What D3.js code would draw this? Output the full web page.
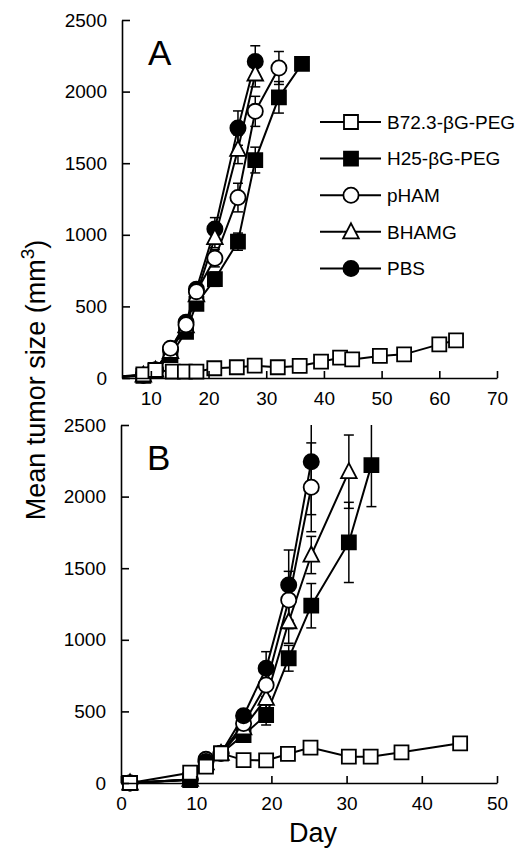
<!DOCTYPE html>
<html>
<head>
<meta charset="utf-8">
<script src="https://cdn.jsdelivr.net/npm/d3@7/dist/d3.min.js"></script>
<style>
  body { margin: 0; background: #fff; }
  text { font-family: "Liberation Sans", Arial, Helvetica, sans-serif; fill: #000; }
</style>
</head>
<body>
<svg id="chart" width="516" height="851"></svg>
<script>
// ---- data (days, mean tumor size mm3, error) ----
var seriesNames = ['B72.3-\u03b2G-PEG', 'H25-\u03b2G-PEG', 'pHAM', 'BHAMG', 'PBS'];
var yTicks = [0, 500, 1000, 1500, 2000, 2500];
var xTicksA = [10, 20, 30, 40, 50, 60, 70];
var xTicksB = [0, 10, 20, 30, 40, 50];

// panel A
var aB72Days = [1, 8.7, 10.8, 13.8, 15.9, 17.9, 21, 24.9, 28, 32, 35.8, 39.5, 42.8, 44.9, 49.7, 53.9, 60, 62.9];
var aB72Vals = [0, 25, 56, 44, 44, 44, 68, 75, 86, 75, 84, 114, 142, 130, 154, 165, 235, 263];
var aB72Errs = [0, 0, 0, 0, 0, 0, 0, 0, 0, 0, 0, 0, 0, 0, 0, 0, 0, 0];

var aDays = [1, 8.7, 10.8, 13.4, 16.1, 17.9, 21.1, 25.1, 28.1, 32.2, 36.2];
var aH25Vals = [0, 15, 50, 160, 323, 517, 690, 952, 1522, 1960, 2193];
var aH25Errs = [0, 0, 0, 20, 30, 40, 50, 60, 90, 110, 0];
var aPhamVals = [0, 20, 55, 207, 372, 603, 836, 1260, 1862, 2165];
var aPhamErrs = [0, 0, 0, 20, 30, 40, 60, 100, 105, 115];
var aBhamgVals = [0, 20, 55, 185, 365, 580, 980, 1597, 2123];
var aBhamgErrs = [0, 0, 0, 20, 30, 40, 70, 100, 90];
var aPbsVals = [0, 20, 55, 200, 390, 620, 1040, 1745, 2210];
var aPbsErrs = [0, 0, 0, 20, 30, 40, 80, 120, 110];

// panel B
var bB72Days = [1.2, 9.2, 11.3, 13.3, 16.3, 19.3, 22.2, 25.2, 30.3, 33.2, 37.3, 45.1];
var bB72Vals = [0, 72, 114, 207, 160, 158, 203, 247, 184, 184, 214, 277];
var bB72Errs = [0, 0, 0, 0, 0, 0, 0, 0, 0, 0, 0, 0];

var bDays = [1.2, 9.2, 11.3, 13.3, 16.3, 19.3, 22.3, 25.3, 30.3, 33.3];
var bH25Vals = [0, 21, 130, 207, 335, 475, 871, 1238, 1680, 2220];
var bH25Errs = [0, 0, 0, 20, 40, 70, 90, 155, 280, 290];
var bPhamVals = [0, 25, 165, 207, 415, 684, 1278, 2065];
var bPhamErrs = [0, 0, 0, 20, 40, 80, 200, 310];
var bBhamgVals = [0, 25, 140, 207, 385, 591, 1126, 1592, 2174];
var bBhamgErrs = [0, 0, 0, 20, 40, 80, 150, 130, 256];
var bPbsVals = [0, 25, 150, 207, 470, 801, 1382, 2244];
var bPbsErrs = [0, 0, 0, 20, 40, 116, 245, 370];

// marker shapes
var shapes = ['square', 'square', 'circle', 'triangle', 'circle'];
var fills = ['#fff', '#000', '#fff', '#fff', '#000'];

var markerPath = function(shape) {
  if (shape === 'square') return 'M-7,-7H7V7H-7Z';
  if (shape === 'triangle') return 'M0,-8.5L7.8,6.5H-7.8Z';
  return d3.symbol(d3.symbolCircle, Math.PI * 7.6 * 7.6)();
};

var makeSeries = function(idx, days, vals, errs) {
  return {
    name: seriesNames[idx], shape: shapes[idx], fill: fills[idx],
    points: vals.map(function(v, i) { return { day: days[i], val: v, err: errs[i] }; })
  };
};

// drawing order: filled squares underneath, open squares on top
var seriesA = [
  makeSeries(1, aDays, aH25Vals, aH25Errs),
  makeSeries(4, aDays, aPbsVals, aPbsErrs),
  makeSeries(3, aDays, aBhamgVals, aBhamgErrs),
  makeSeries(2, aDays, aPhamVals, aPhamErrs),
  makeSeries(0, aB72Days, aB72Vals, aB72Errs)
];
var seriesB = [
  makeSeries(1, bDays, bH25Vals, bH25Errs),
  makeSeries(3, bDays, bBhamgVals, bBhamgErrs),
  makeSeries(2, bDays, bPhamVals, bPhamErrs),
  makeSeries(4, bDays, bPbsVals, bPbsErrs),
  makeSeries(0, bB72Days, bB72Vals, bB72Errs)
];

var svg = d3.select('#chart');

var drawPanel = function(id, series, xDomain, xTicks, left, right, top, bottom, letter) {
  var x = d3.scaleLinear().domain(xDomain).range([left, right]);
  var y = d3.scaleLinear().domain([0, 2500]).range([bottom, top]);
  var g = svg.append('g');

  svg.append('clipPath').attr('id', 'clip' + id)
    .append('rect')
    .attr('x', left).attr('y', top)
    .attr('width', right - left + 20).attr('height', bottom - top + 20);

  var plot = g.append('g').attr('clip-path', 'url(#clip' + id + ')');

  // error bars
  series.forEach(function(s) {
    s.points.filter(function(p) { return p.err > 0; }).forEach(function(p) {
      var hi = p.val + p.err, lo = Math.max(0, p.val - p.err);
      var cx = x(p.day);
      plot.append('line')
        .attr('x1', cx).attr('x2', cx)
        .attr('y1', y(lo)).attr('y2', y(Math.min(hi, 2500)))
        .attr('stroke', '#000').attr('stroke-width', 1.5);
      [hi, lo].forEach(function(e) {
        if (e > 2500 || e <= 0) return;
        plot.append('line')
          .attr('x1', cx - 5).attr('x2', cx + 5)
          .attr('y1', y(e)).attr('y2', y(e))
          .attr('stroke', '#000').attr('stroke-width', 1.5);
      });
    });
  });

  var line = d3.line()
    .x(function(p) { return x(p.day); })
    .y(function(p) { return y(p.val); });

  series.forEach(function(s) {
    plot.append('path')
      .datum(s.points)
      .attr('d', line)
      .attr('fill', 'none')
      .attr('stroke', '#000')
      .attr('stroke-width', 2);
  });

  series.forEach(function(s) {
    plot.selectAll(null)
      .data(s.points)
      .enter().append('path')
      .attr('transform', function(p) { return 'translate(' + x(p.day) + ',' + y(p.val) + ')'; })
      .attr('d', markerPath(s.shape))
      .attr('fill', s.fill)
      .attr('stroke', '#000')
      .attr('stroke-width', 1.8);
  });

  // axes
  var yAxis = g.append('g')
    .attr('transform', 'translate(' + left + ',0)')
    .call(d3.axisLeft(y).tickValues(yTicks).tickFormat(d3.format('d'))
      .tickSize(-8).tickSizeOuter(0).tickPadding(15));
  var xAxis = g.append('g')
    .attr('transform', 'translate(0,' + bottom + ')')
    .call(d3.axisBottom(x).tickValues(xTicks).tickFormat(d3.format('d'))
      .tickSize(-7).tickSizeOuter(0).tickPadding(14));

  [yAxis, xAxis].forEach(function(a) {
    a.selectAll('path, line').attr('stroke', '#000').attr('stroke-width', 1.6);
    a.selectAll('text').attr('font-size', 19).attr('font-family', null);
  });

  g.append('text')
    .attr('x', left + 26).attr('y', top + 45)
    .attr('font-size', 35)
    .text(letter);

  return { x: x, y: y, g: g };
};

var pA = drawPanel('A', seriesA, [5, 70], xTicksA, 122, 497, 20, 378, 'A');
var pB = drawPanel('B', seriesB, [0, 50], xTicksB, 121, 497, 425, 783, 'B');

// legend (panel A)
var legendOrder = [0, 1, 2, 3, 4];
var legend = pA.g.append('g');
legendOrder.forEach(function(idx, i) {
  var ly = 122 + i * 36.6;
  legend.append('line')
    .attr('x1', 320).attr('x2', 381).attr('y1', ly).attr('y2', ly)
    .attr('stroke', '#000').attr('stroke-width', 2);
  legend.append('path')
    .attr('transform', 'translate(351,' + ly + ')')
    .attr('d', markerPath(shapes[idx]))
    .attr('fill', fills[idx])
    .attr('stroke', '#000')
    .attr('stroke-width', 1.8);
  legend.append('text')
    .attr('x', 387).attr('y', ly).attr('dy', '0.36em')
    .attr('font-size', 19)
    .text(seriesNames[idx]);
});

// axis titles
svg.append('text')
  .attr('x', 313).attr('y', 842)
  .attr('text-anchor', 'middle')
  .attr('font-size', 27)
  .text('Day');

var yTitle = svg.append('text')
  .attr('transform', 'translate(45,380) rotate(-90)')
  .attr('text-anchor', 'middle')
  .attr('font-size', 27);
yTitle.append('tspan').text('Mean tumor size (mm');
yTitle.append('tspan').attr('font-size', 19).attr('dy', -11).text('3');
yTitle.append('tspan').attr('dy', 11).text(')');
</script>
</body>
</html>
